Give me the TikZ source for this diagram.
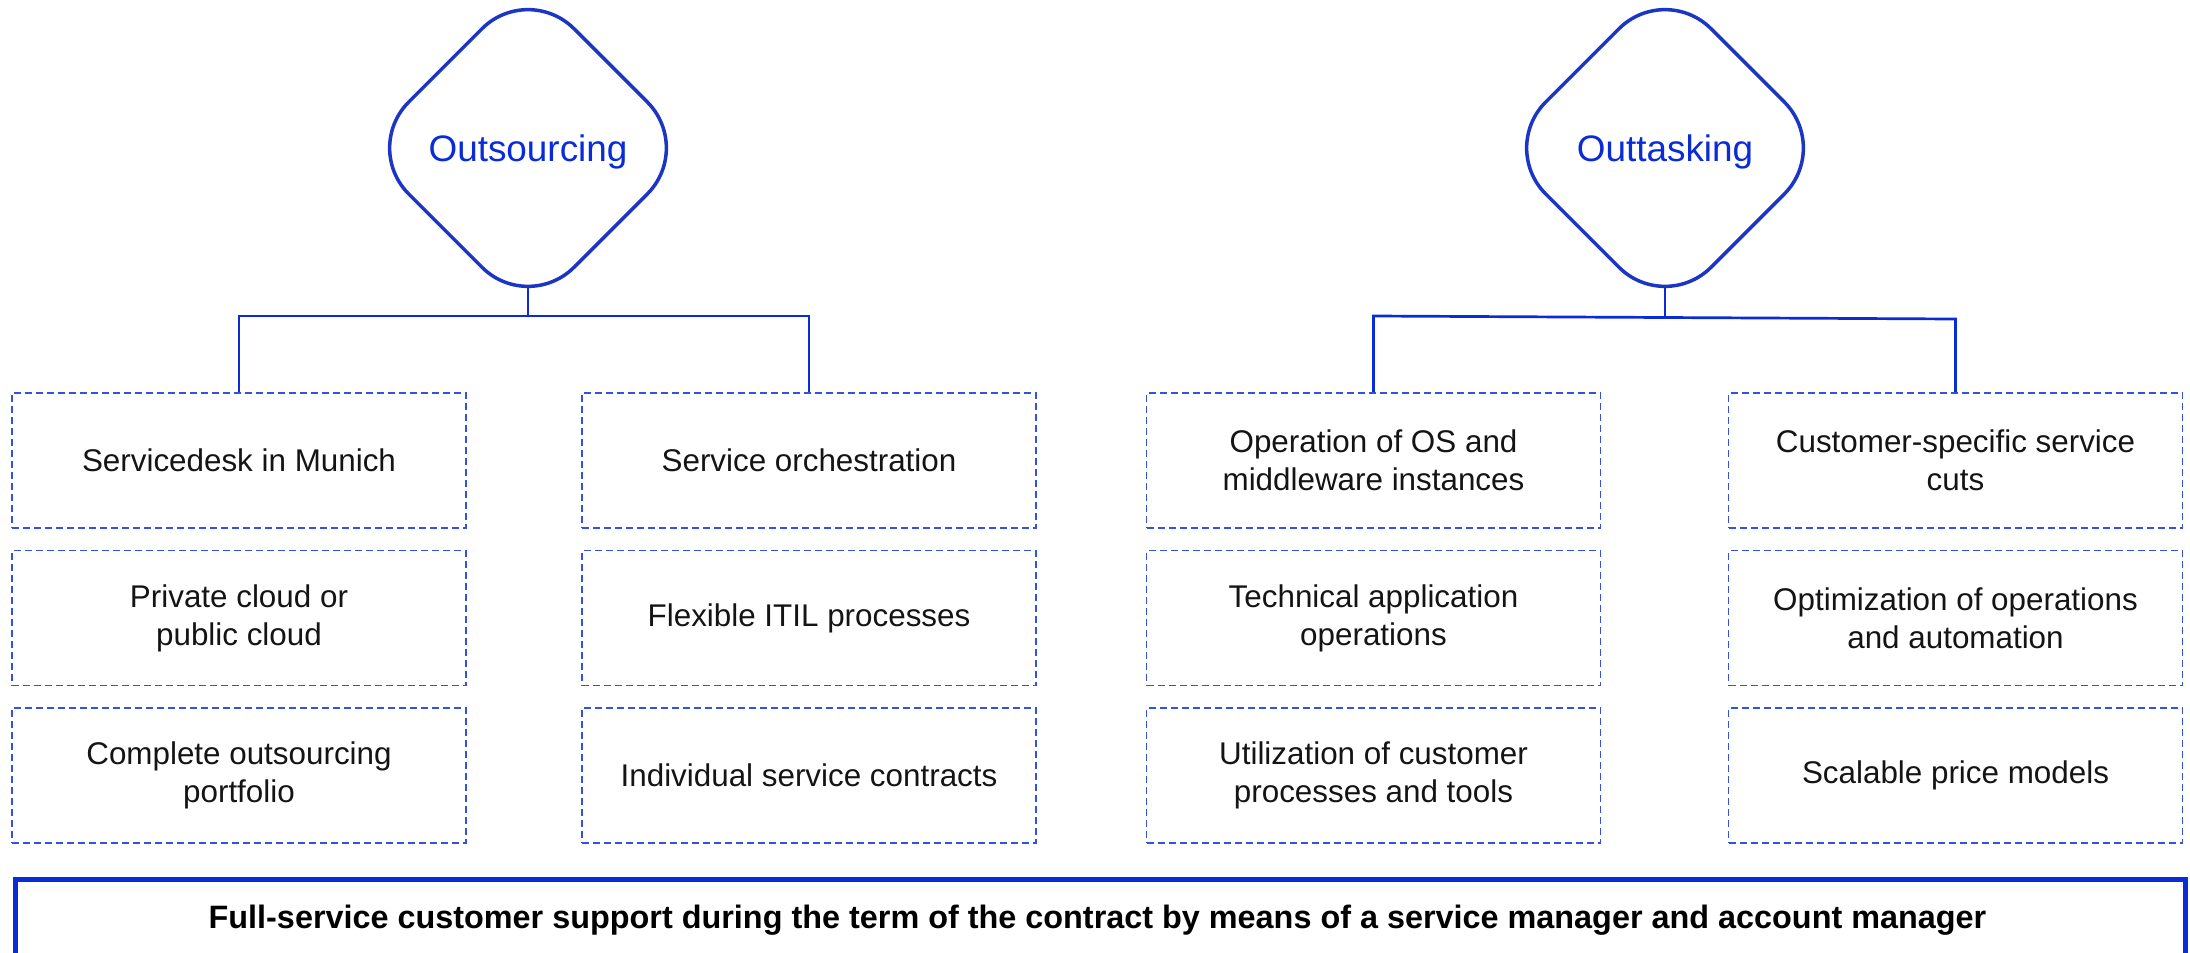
\documentclass[tikz,border=0pt]{standalone}
\usepackage{fontspec}
\setmainfont{Liberation Sans}
\usetikzlibrary{shapes.geometric,backgrounds}
\definecolor{mblue}{HTML}{0A2BD8}
\definecolor{dblue}{HTML}{1B35C4}
\definecolor{dashblue}{HTML}{3352DD}
\begin{document}
\begin{tikzpicture}[x=1bp,y=-1bp,
  cell/.style={draw=dashblue, dash pattern=on 7bp off 4bp, line width=1.8bp,
    minimum width=454bp, minimum height=135bp, inner sep=0pt, align=center,
    font=\fontsize{31.5}{38}\selectfont, text=black!92},
  hub/.style={diamond, aspect=1, draw=dblue, fill=white, line width=3.5bp,
    minimum size=332bp, inner sep=0pt, rounded corners=65bp, text=mblue,
    text depth=0pt, font=\fontsize{37}{44}\selectfont},
  conn/.style={draw=mblue, line width=2.7bp},
  footbox/.style={draw=mblue, line width=5bp, minimum width=2170bp,
    minimum height=120bp, anchor=north west, inner sep=0pt},
  foottext/.style={font=\bfseries\fontsize{32.5}{38}\selectfont, text=black, anchor=base, inner sep=0pt}]
\useasboundingbox (0,0) rectangle (2190,952);
\clip (0,0) rectangle (2190,952);

\node[hub] (d1) at (528,148) {Outsourcing};
\node[hub] (d2) at (1665,148) {Outtasking};

\node[cell] (a1) at (239,460.5) {Servicedesk in Munich};
\node[cell] (a2) at (239,618) {Private cloud or\\public cloud};
\node[cell] (a3) at (239,775.5) {Complete outsourcing\\portfolio};

\node[cell] (b1) at (809,460.5) {Service orchestration};
\node[cell] (b2) at (809,618) {Flexible ITIL processes};
\node[cell] (b3) at (809,775.5) {Individual service contracts};

\node[cell] (c1) at (1373.5,460.5) {Operation of OS and\\middleware instances};
\node[cell] (c2) at (1373.5,618) {Technical application\\operations};
\node[cell] (c3) at (1373.5,775.5) {Utilization of customer\\processes and tools};

\node[cell] (e1) at (1955.5,460.5) {Customer-specific service\\cuts};
\node[cell] (e2) at (1955.5,618) {Optimization of operations\\and automation};
\node[cell] (e3) at (1955.5,775.5) {Scalable price models};

\coordinate (j1) at (528,316);
\coordinate (j2) at (1665,317.5);
\coordinate (j2l) at (1373.5,316);
\coordinate (j2r) at (1955.5,319);

\begin{scope}[on background layer]
  \draw[conn] (d1.center) -- (j1);
  \draw[conn] (d2.center) -- (j2);
\end{scope}
\draw[conn] (a1.north) |- (j1) -| (b1.north);
\draw[conn] (c1.north) -- (j2l) -- (j2r) -- (e1.north);

\node[footbox] (foot) at (12.5,876.5) {};
\node[foottext] (foottxt) at (1097.5,928) {Full-service customer support during the term of the contract by means of a service manager and account manager};
\end{tikzpicture}
\end{document}
